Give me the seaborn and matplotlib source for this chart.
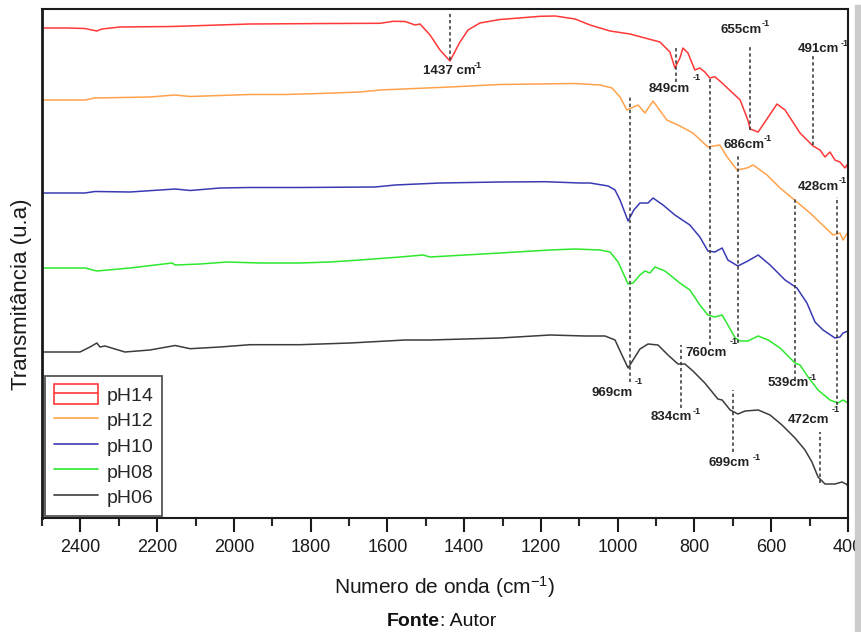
import matplotlib
matplotlib.use("Agg")
import matplotlib.pyplot as plt
from matplotlib.patches import Rectangle
from matplotlib.lines import Line2D
from matplotlib.legend_handler import HandlerTuple
import numpy as np
import pandas as pd
import seaborn as sns

# FTIR spectra (wavenumber in cm^-1, stacked transmittance in arbitrary units)
samples = ["pH14", "pH12", "pH10", "pH08", "pH06"]

wn_ph14 = [2500, 2435, 2388, 2370, 2357, 2344, 2297, 2161, 1958, 1750, 1619, 1585, 1554, 1528,
           1515, 1489, 1463, 1437, 1411, 1390, 1359, 1307, 1202, 1163, 1111, 1072, 1020, 968,
           890, 864, 851, 838, 830, 817, 799, 786, 773, 760, 747, 728, 681, 661, 655, 634,
           585, 564, 525, 491, 473, 460, 447, 434, 421, 408, 403, 400]
tr_ph14 = [490, 490, 489.5, 488, 487, 489, 491, 491.5, 494, 494.5, 494.7, 496.7, 496.5, 493,
           494, 483, 468, 457, 476, 488, 495, 498.5, 501.7, 502, 499, 493, 487, 484,
           476, 466, 450, 460, 470, 465, 448, 450, 446, 440, 441.3, 435, 418, 398, 389, 386,
           414, 408, 385, 372, 368, 361, 366, 358, 356, 350, 353, 349]

wn_ph12 = [2500, 2388, 2362, 2219, 2153, 2114, 1958, 1867, 1776, 1671, 1619, 1437, 1307, 1111,
           1046, 1015, 994, 976, 947, 929, 908, 872, 838, 804, 765, 734, 715, 689, 663, 647,
           611, 577, 533, 499, 439, 421, 413, 400]
tr_ph12 = [418, 418, 420, 421, 423, 421.5, 423.5, 423.5, 424.5, 426, 428, 431, 433.5, 434.5,
           433, 430, 421, 408, 413, 405, 417, 398, 392, 385, 371, 373, 361, 348, 350, 353,
           343, 330, 316, 305, 283, 285, 278, 286]

wn_ph10 = [2500, 2388, 2362, 2271, 2153, 2114, 2036, 1958, 1828, 1632, 1580, 1463, 1307, 1189,
           1098, 1072, 1025, 1007, 994, 973, 958, 942, 921, 908, 882, 851, 812, 786, 765, 747,
           728, 713, 687, 661, 634, 603, 564, 533, 507, 486, 465, 434, 421, 413, 400]
tr_ph10 = [325, 325, 326.5, 326, 329, 327.5, 330, 330.5, 330.5, 331, 333, 335, 336, 336.3,
           335, 335, 332, 328, 318, 297, 308, 315, 315, 320, 313, 303, 293, 281, 267, 266,
           270, 258, 252, 257, 263, 253, 238, 230, 215, 196, 188, 180, 181, 185, 187]

wn_ph08 = [2500, 2388, 2357, 2271, 2161, 2153, 2088, 2018, 1932, 1828, 1750, 1671, 1567, 1507,
           1489, 1307, 1176, 1111, 1046, 1020, 999, 973, 960, 942, 929, 916, 903, 877, 838,
           812, 786, 765, 747, 728, 713, 694, 681, 661, 634, 608, 577, 538, 525, 504, 478,
           447, 426, 413, 400]
tr_ph08 = [250, 250, 247, 250, 255, 253, 254, 256, 255, 255, 256, 258, 261, 263,
           261, 265, 268, 269, 268, 266, 256, 234, 235, 243, 247, 245, 251, 247, 235,
           228, 213, 203, 201, 203, 193, 180, 177, 177, 182, 178, 170, 155, 153, 141, 128,
           118, 115, 118, 115]

wn_ph06 = [2500, 2401, 2375, 2357, 2349, 2336, 2284, 2219, 2153, 2114, 2036, 1958, 1828, 1697,
           1554, 1489, 1307, 1176, 1085, 1033, 1007, 989, 973, 960, 942, 921, 895, 869, 843,
           825, 804, 773, 739, 728, 707, 687, 668, 634, 603, 572, 538, 512, 494, 478, 460,
           434, 416, 405, 400]
tr_ph06 = [166, 166, 171, 175, 171, 172, 166, 168, 172.5, 169.3, 171, 173.3, 173.3, 175,
           178, 178, 180, 183, 182, 182, 178, 163, 150, 158, 169, 174, 173, 163, 154,
           154, 147, 135, 119, 118, 108, 104, 107, 108, 103, 93, 80, 68, 56, 41, 34,
           34, 36, 34, 32]

# Assigned bands: label value and the vertical extent of its guide line
band_values = [1437, 849, 760, 655, 491, 969, 686, 539, 428, 834, 699, 472]
band_lo = [458, 436, 173, 388, 373, 136, 175, 138, 113, 110, 66, 35]
band_hi = [505, 471, 440, 473, 463, 423, 363, 321, 321, 173, 128, 86]

xticks = [2400, 2200, 2000, 1800, 1600, 1400, 1200, 1000, 800, 600, 400]

colors = {"pH14": "#ff3838", "pH12": "#ffa24a", "pH10": "#3a3ab4",
          "pH08": "#2ee82e", "pH06": "#3c3c3c"}

frames = []
for name, wn, tr in [("pH14", wn_ph14, tr_ph14), ("pH12", wn_ph12, tr_ph12),
                     ("pH10", wn_ph10, tr_ph10), ("pH08", wn_ph08, tr_ph08),
                     ("pH06", wn_ph06, tr_ph06)]:
    frames.append(pd.DataFrame({"wn": wn, "tr": tr, "sample": name}))
df = pd.concat(frames, ignore_index=True)

sns.set_style("white")
plt.rcParams["font.family"] = ["Liberation Sans", "DejaVu Sans"]
plt.rcParams["mathtext.default"] = "regular"

fig = plt.figure(figsize=(8.62, 6.32), dpi=100)
ax = fig.add_axes([42 / 862, 114 / 632, 806 / 862, 509 / 632])

sns.lineplot(data=df, x="wn", y="tr", hue="sample", hue_order=samples,
             palette=colors, sort=False, estimator=None, legend=False,
             linewidth=1.1, ax=ax)

ax.set_xlim(2500, 400)
ax.set_ylim(0, 509)

# band guide lines
ax.vlines(band_values, band_lo, band_hi, colors="#333333", linestyles=(0, (2.2, 1.8)),
          linewidth=1.1)

# band labels: text centre and superscript centre
label_pos = {1437: (1440, 447, 1364, 453), 849: (866, 429, 793, 440),
             655: (679, 488, 614, 494), 491: (476, 469, 408, 475),
             686: (671, 373, 608, 380), 428: (476, 331, 413, 338),
             969: (1015, 125, 945, 136), 760: (770, 165, 697, 176),
             834: (861, 101, 793, 107), 539: (556, 135, 491, 140),
             699: (710, 55, 637, 61), 472: (502, 98, 431, 109)}
for val in band_values:
    tx, ty, sx, sy = label_pos[val]
    txt = f"{val} cm" if val == 1437 else f"{val}cm"
    ax.text(tx, ty, txt, ha="center", va="center", fontsize=9.5,
            fontweight="bold", color="#222222")
    ax.text(sx, sy, "-1", ha="center", va="center", fontsize=6.5,
            fontweight="bold", color="#222222")

for side in ["left", "right", "top", "bottom"]:
    ax.spines[side].set_color("#1a1a1a")
    ax.spines[side].set_linewidth(1.5)
ax.spines["left"].set_linewidth(2.0)

ax.set_xticks(xticks)
ax.set_xticklabels([str(t) for t in xticks])
ax.set_xticks(np.arange(2500, 399, -100), minor=True)
ax.tick_params(axis="x", which="major", direction="out", length=10, width=1.5,
               labelsize=13, pad=5, colors="#1a1a1a", bottom=True)
ax.tick_params(axis="x", which="minor", direction="out", length=6, width=1.5,
               bottom=True)
ax.set_yticks([])

ax.set_xlabel("Numero de onda (cm$^{-1}$)", fontsize=15, labelpad=13, color="#1a1a1a")
ax.set_ylabel("Transmitância (u.a)", fontsize=16, color="#1a1a1a")
ax.yaxis.set_label_coords(-0.012, 0.44)

# legend: first entry shown as framed box, others as lines
handles = []
for s in samples:
    ln = Line2D([], [], color=colors[s], linewidth=1.2)
    if s == "pH14":
        box = Rectangle((0, 0), 1, 1, fill=False, edgecolor=colors[s], linewidth=1.2)
        handles.append((box, ln))
    else:
        handles.append(ln)
leg = ax.legend(handles, samples, loc="lower left", bbox_to_anchor=(0.0037, 0.004),
                borderaxespad=0, fontsize=14, handlelength=2.3, handleheight=1.2,
                handletextpad=0.4, labelspacing=0.26, borderpad=0.45,
                frameon=True, fancybox=False, framealpha=1,
                handler_map={tuple: HandlerTuple(ndivide=1)})
leg.get_frame().set_edgecolor("#555555")
leg.get_frame().set_linewidth(1.3)

# caption under the chart
fig.text(440 / 862, 1 - 621 / 632, "Fonte", ha="right", va="center",
         fontsize=14, fontweight="bold", color="#111111")
fig.text(440 / 862, 1 - 621 / 632, ": Autor", ha="left", va="center",
         fontsize=14, color="#111111")

# page edge strip on the right
fig.patches.append(Rectangle((855 / 862, 0), 7 / 862, 627 / 632,
                             transform=fig.transFigure, color="#cccccc", zorder=0))

fig.savefig("out.png", dpi=100)
